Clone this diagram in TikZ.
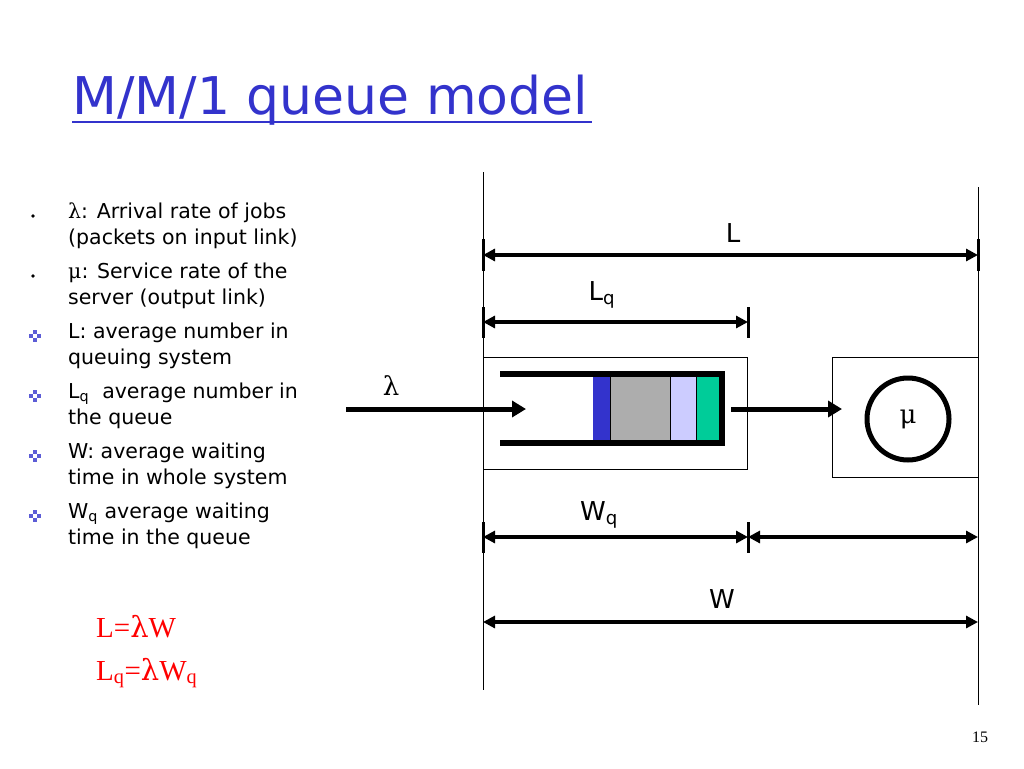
\documentclass[tikz,border=0pt]{standalone}
\usepackage{fontspec}
\setmainfont{DejaVu Sans}
\newfontfamily\tms{Liberation Serif}
\newfontfamily\grk{DejaVu Serif}
\newcommand{\lam}{{\grk λ}}
\newcommand{\mmu}{{\grk μ}}
\newcommand{\sbs}[1]{\textsubscript{#1}}
\usetikzlibrary{arrows.meta}
\definecolor{ttl}{HTML}{3333CC}
\definecolor{pktg}{HTML}{00CC99}
\begin{document}
\begin{tikzpicture}[x=1pt,y=-1pt,
  thin line/.style={line width=0.8pt},
  dim/.style={line width=3.2pt,{Triangle[length=12pt,width=12pt]}-{Triangle[length=12pt,width=12pt]}},
  tick/.style={line width=3pt},
  flow/.style={line width=5pt,-{Triangle[length=14pt,width=16pt]}},
  chan/.style={line width=6pt},
  lbl/.style={font=\fontsize{26}{28}\selectfont, inner sep=0pt},
  txt/.style={font=\fontsize{20.5}{26}\selectfont, anchor=north west, align=left, inner sep=0pt},
  blt/.style={fill=ttl!80, inner sep=0pt, minimum size=3.2pt, shape=rectangle}
]
\useasboundingbox (0,0) rectangle (1024,768);
% title
\node[anchor=base west, text=ttl, font=\fontsize{52}{56}\selectfont, inner sep=0pt] (title) at (72,114) {M/M/1 queue model};
\draw[ttl, line width=2pt] (72,122) -- (592,122);
% vertical lines
\coordinate (v1t) at (483,172); \coordinate (v1b) at (483,690);
\coordinate (v2t) at (978,187); \coordinate (v2b) at (978,705);
\draw[thin line] (v1t) -- (v1b);
\draw[thin line] (v2t) -- (v2b);
% L
\coordinate (La) at (483,255); \coordinate (Lb) at (978,255);
\draw[dim] (La) -- (Lb);
\draw[tick] (483,239) -- (483,271); \draw[tick] (978,239) -- (978,271);
\node[lbl] (Ll) at (733,233) {L};
% Lq
\coordinate (Lqa) at (483,322); \coordinate (Lqb) at (748,322);
\draw[dim] (Lqa) -- (Lqb);
\draw[tick] (483,307) -- (483,338); \draw[tick] (748,307) -- (748,338);
\node[lbl] (Lql) at (602,295) {L\sbs{q}};
% queue box
\node[draw, thin line, minimum width=264pt, minimum height=112pt, inner sep=0pt] (qbox) at (615,413) {};
\fill[ttl] (593,377) rectangle (610,440);
\fill[black!32] (610,377) rectangle (670,440);
\fill[blue!20] (670,377) rectangle (696,440);
\fill[pktg] (696,377) rectangle (720,440);
\draw[thin line] (610,377) -- (610,440) (670,377) -- (670,440) (696,377) -- (696,440);
\draw[chan] (500,374) -- (722,374) -- (722,443) -- (500,443);
% arrows
\coordinate (in) at (346,409); \coordinate (inend) at (526,409);
\draw[flow] (in) -- (inend);
\node[lbl] (lam) at (391,386) {\lam};
\coordinate (out) at (731,409); \coordinate (outend) at (842,409);
\draw[flow] (out) -- (outend);
% server
\node[draw, thin line, minimum width=146pt, minimum height=120pt, inner sep=0pt] (sbox) at (905,417) {};
\node[draw, circle, line width=5pt, minimum size=82pt, inner sep=0pt, font=\fontsize{26}{28}\selectfont] (srv) at (908,419) {\mmu};
% Wq
\coordinate (Wa) at (483,537); \coordinate (Wm) at (748,537); \coordinate (Wb) at (978,537);
\draw[dim] (Wa) -- (Wm);
\draw[dim] (Wm) -- (Wb);
\draw[tick] (483,522) -- (483,553); \draw[tick] (748,522) -- (748,553);
\node[lbl] (Wql) at (599,515) {W\sbs{q}};
% W
\coordinate (W1) at (483,622); \coordinate (W2) at (978,622);
\draw[dim] (W1) -- (W2);
\node[lbl] (Wl) at (722,599) {W};
% bullets text
\node[txt] (t1) at (68,203) {\lam: Arrival rate of jobs\\(packets on input link)};
\node[txt] (t2) at (68,263) {\mmu: Service rate of the\\server (output link)};
\node[txt] (t3) at (68,323) {L: average number in\\queuing system};
\node[txt] (t4) at (68,383) {L\sbs{q} \ average number in\\the queue};
\node[txt] (t5) at (68,443) {W: average waiting\\time in whole system};
\node[txt] (t6) at (68,503) {W\sbs{q} average waiting\\time in the queue};
\fill (33,216) circle (1.8pt);
\fill (33,276) circle (1.8pt);
\foreach \y in {336,396,456,516}{
  \node[blt] at (35,\y-4) {}; \node[blt] at (35,\y+4) {};
  \node[blt] at (31,\y) {}; \node[blt] at (39,\y) {};
}
% formulas
\node[anchor=base west, text=red, font=\tms\fontsize{29}{30}\selectfont, inner sep=0pt] (f1) at (96,637) {L={\grk λ}W};
\node[anchor=base west, text=red, font=\tms\fontsize{29}{30}\selectfont, inner sep=0pt] (f2) at (96,680) {L\sbs{q}={\grk λ}W\sbs{q}};
\node[anchor=base, font=\tms\fontsize{16}{18}\selectfont, inner sep=0pt] (pg) at (980,742) {15};
\end{tikzpicture}
\end{document}
